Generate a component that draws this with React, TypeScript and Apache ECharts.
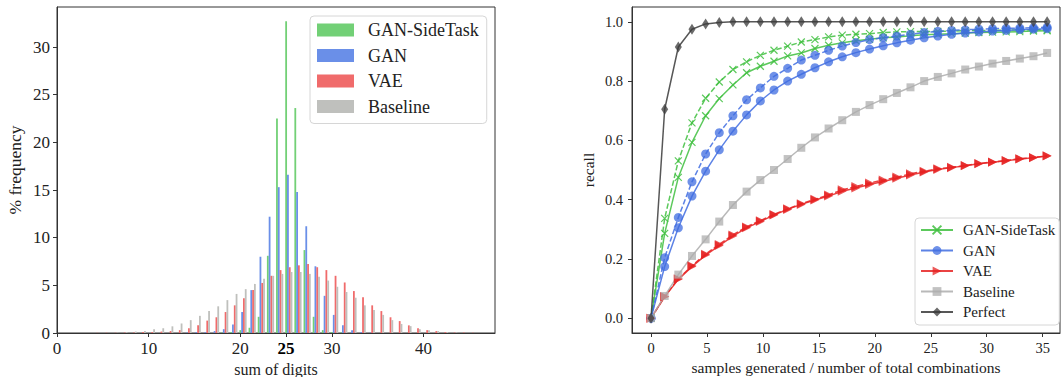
import React, { useEffect, useRef } from 'react';
import * as echarts from 'echarts';

// ---------- Left chart: histogram of digit sums ----------
const histBins = [0,1,2,3,4,5,6,7,8,9,10,11,12,13,14,15,16,17,18,19,20,21,22,23,24,25,26,27,28,29,30,31,32,33,34,35,36,37,38,39,40,41,42,43,44,45,46,47];
const histSideTask = [0,0,0,0,0,0,0,0,0,0,0,0,0,0,0,0,0,0,0.05,0.1,0.3,0.55,1.7,8.1,22.5,32.7,23.6,8.7,1.7,0.3,0.1,0.05,0,0,0,0,0,0,0,0,0,0,0,0,0,0,0,0];
const histGAN = [0,0,0,0,0,0,0,0,0,0,0,0,0,0,0.05,0.1,0.1,0.2,0.4,0.9,2.2,4.5,8.0,12.2,15.3,16.6,14.8,11.2,7.0,3.9,1.9,0.8,0.3,0.1,0.05,0,0,0,0,0,0,0,0,0,0,0,0,0];
const histVAE = [0,0,0,0,0.02,0.03,0.03,0.05,0.05,0.1,0.1,0.15,0.2,0.3,0.5,0.8,1.3,1.65,2.2,2.9,3.65,4.5,5.25,6.0,6.6,6.9,7.1,7.25,6.9,6.6,6.0,5.3,4.4,3.75,2.9,2.3,1.65,1.25,0.8,0.5,0.3,0.2,0.1,0.05,0.05,0.03,0,0];
const histBaseline = [0,0,0,0,0,0,0.03,0.08,0.15,0.2,0.4,0.5,0.7,1.0,1.35,1.8,2.3,2.8,3.45,4.1,4.6,5.15,5.7,6.0,6.2,6.4,6.4,6.2,5.9,5.5,4.85,4.3,3.7,2.9,2.4,1.9,1.35,0.95,0.72,0.4,0.3,0.2,0.1,0.05,0,0,0,0];
const histXTicks = [0, 10, 20, 25, 30, 40];
const histYTicks = [0, 5, 10, 15, 20, 25, 30];

// ---------- Right chart: recall curves ----------
const recallX = [0,1.22,2.44,3.66,4.88,6.10,7.32,8.54,9.77,10.99,12.21,13.43,14.65,15.87,17.09,18.31,19.53,20.75,21.97,23.19,24.41,25.63,26.86,28.08,29.30,30.52,31.74,32.96,34.18,35.40];
const sideTaskSolid = [0,0.286,0.475,0.593,0.683,0.741,0.787,0.828,0.850,0.867,0.885,0.895,0.910,0.921,0.929,0.936,0.941,0.946,0.949,0.953,0.956,0.958,0.960,0.962,0.964,0.965,0.966,0.967,0.969,0.970];
const sideTaskDashed = [0,0.337,0.531,0.659,0.742,0.797,0.839,0.865,0.887,0.904,0.918,0.932,0.940,0.949,0.955,0.958,0.960,0.964,0.966,0.967,0.967,0.968,0.969,0.970,0.971,0.971,0.972,0.972,0.973,0.973];
const ganSolid = [0,0.174,0.305,0.412,0.496,0.568,0.631,0.686,0.733,0.770,0.800,0.823,0.845,0.865,0.882,0.896,0.908,0.919,0.929,0.938,0.946,0.952,0.958,0.962,0.966,0.969,0.971,0.974,0.975,0.977];
const ganDashed = [0,0.204,0.340,0.460,0.554,0.626,0.683,0.737,0.777,0.816,0.843,0.871,0.887,0.904,0.918,0.930,0.940,0.946,0.952,0.958,0.964,0.968,0.971,0.973,0.975,0.977,0.978,0.979,0.980,0.982];
const vaeSolid = [0,0.072,0.131,0.174,0.213,0.245,0.277,0.305,0.326,0.348,0.367,0.384,0.399,0.412,0.428,0.439,0.451,0.461,0.472,0.483,0.493,0.502,0.508,0.514,0.521,0.526,0.531,0.537,0.541,0.547];
const vaeDashed = [0,0.073,0.133,0.177,0.216,0.249,0.281,0.308,0.329,0.350,0.369,0.386,0.401,0.416,0.433,0.444,0.456,0.466,0.476,0.487,0.496,0.504,0.509,0.515,0.522,0.527,0.532,0.538,0.542,0.548];
const baselineRecall = [0,0.075,0.147,0.210,0.266,0.326,0.382,0.427,0.466,0.500,0.537,0.575,0.610,0.640,0.668,0.696,0.719,0.739,0.760,0.779,0.800,0.814,0.826,0.839,0.849,0.859,0.868,0.876,0.884,0.895];
const perfectRecall = [0,0.705,0.915,0.975,0.993,0.998,1,1,1,1,1,1,1,1,1,1,1,1,1,1,1,1,1,1,1,1,1,1,1,1];
const recallXTicks = [0, 5, 10, 15, 20, 25, 30, 35];
const recallYTicks = [0, 0.2, 0.4, 0.6, 0.8, 1.0];

const FONT = "'Liberation Serif', 'DejaVu Serif', serif";
const AX = '#333';
const TXT = '#222';

const C_GREEN_BAR = '#72d076';
const C_BLUE_BAR = '#6a8fe8';
const C_RED_BAR = '#f06b6b';
const C_GRAY_BAR = '#bfc0bd';

const C_GREEN = '#3fbf3f';
const C_BLUE = '#3f6ce0';
const C_RED = '#e62222';
const C_GRAY = '#adadad';
const C_BLACK = '#3a3a3a';

const X_SYMBOL = 'path://M0,0L10,10M10,0L0,10';

export default function App() {
  const ref = useRef<HTMLDivElement>(null);

  useEffect(() => {
    if (!ref.current) return;
    const chart = echarts.init(ref.current, undefined, { renderer: 'svg' });

    const histDefs = [
      { name: 'GAN-SideTask', values: histSideTask, color: C_GREEN_BAR },
      { name: 'GAN', values: histGAN, color: C_BLUE_BAR },
      { name: 'VAE', values: histVAE, color: C_RED_BAR },
      { name: 'Baseline', values: histBaseline, color: C_GRAY_BAR },
    ];

    const barSeries = histDefs.map((d) => ({
      type: 'bar',
      name: d.name,
      xAxisIndex: 1,
      yAxisIndex: 0,
      data: histBins.map((b, i) => [b, d.values[i]]),
      barWidth: 1.8,
      barGap: '0%',
      itemStyle: { color: d.color },
      silent: true,
    }));

    const lineDefs = [
      { name: 'd-GAN-SideTask', values: sideTaskDashed, color: C_GREEN, symbol: X_SYMBOL, size: 7, dashed: true, cross: true },
      { name: 'r-GAN-SideTask', values: sideTaskSolid, color: C_GREEN, symbol: X_SYMBOL, size: 7, dashed: false, cross: true },
      { name: 'd-GAN', values: ganDashed, color: C_BLUE, symbol: 'circle', size: 9, dashed: true },
      { name: 'r-GAN', values: ganSolid, color: C_BLUE, symbol: 'circle', size: 9, dashed: false },
      { name: 'd-VAE', values: vaeDashed, color: C_RED, symbol: 'triangle', size: 9, dashed: true, rotate: -90 },
      { name: 'r-VAE', values: vaeSolid, color: C_RED, symbol: 'triangle', size: 9, dashed: false, rotate: -90 },
      { name: 'r-Baseline', values: baselineRecall, color: C_GRAY, symbol: 'rect', size: 8, dashed: false },
      { name: 'r-Perfect', values: perfectRecall, color: C_BLACK, symbol: 'diamond', size: [7, 11], dashed: false },
    ];

    const lineSeries = lineDefs.map((d: any) => ({
      type: 'line',
      name: d.name,
      xAxisIndex: 2,
      yAxisIndex: 1,
      data: recallX.map((x, i) => [x, d.values[i]]),
      symbol: d.symbol,
      symbolSize: d.size,
      symbolRotate: d.rotate || 0,
      showSymbol: true,
      silent: true,
      lineStyle: {
        color: d.color,
        width: 1.5,
        opacity: 0.85,
        type: d.dashed ? [5.5, 2.4] : 'solid',
      },
      itemStyle: d.cross
        ? { color: d.color, borderColor: d.color, borderWidth: 1.2, opacity: 0.85 }
        : { color: d.color, opacity: 0.75, borderWidth: 0 },
    }));

    const tickLabel = { fontFamily: FONT, color: TXT };

    const option: any = {
      animation: false,
      grid: [
        { left: 57, top: 7, width: 438, height: 326, show: true, borderColor: AX, borderWidth: 1, backgroundColor: 'transparent', containLabel: false, outerBoundsMode: 'none' },
        { left: 632, top: 7, width: 428, height: 326, show: true, borderColor: AX, borderWidth: 1, backgroundColor: 'transparent', containLabel: false, outerBoundsMode: 'none' },
      ],
      xAxis: [
        {
          gridIndex: 0, type: 'value', min: 0, max: 47.8,
          axisLine: { show: true, onZero: false, lineStyle: { color: AX, width: 1 } },
          axisTick: { show: true, length: 4, customValues: histXTicks, lineStyle: { color: AX } },
          axisLabel: {
            ...tickLabel, fontSize: 17, margin: 7, customValues: histXTicks,
            formatter: (v: number) => (v === 25 ? '{b|25}' : String(v)),
            rich: { b: { fontWeight: 'bold', fontSize: 17, fontFamily: FONT, color: '#000' } },
          },
          splitLine: { show: false },
          name: 'sum of digits', nameLocation: 'middle', nameGap: 21,
          nameTextStyle: { fontFamily: FONT, fontSize: 16, color: TXT },
        },
        {
          gridIndex: 0, type: 'value', min: -0.3, max: 47.5, show: false,
          splitLine: { show: false },
        },
        {
          gridIndex: 1, type: 'value', min: -1.7, max: 36.55,
          axisLine: { show: true, onZero: false, lineStyle: { color: AX, width: 1 } },
          axisTick: { show: true, length: 4, customValues: recallXTicks, lineStyle: { color: AX } },
          axisLabel: { ...tickLabel, fontSize: 14.5, margin: 7, customValues: recallXTicks },
          splitLine: { show: false },
          name: 'samples generated / number of total combinations', nameLocation: 'middle', nameGap: 25,
          nameTextStyle: { fontFamily: FONT, fontSize: 15.5, color: TXT },
        },
      ],
      yAxis: [
        {
          gridIndex: 0, type: 'value', min: 0, max: 34.2,
          axisLine: { show: true, onZero: false, lineStyle: { color: AX, width: 1 } },
          axisTick: { show: true, length: 4, customValues: histYTicks, lineStyle: { color: AX } },
          axisLabel: { ...tickLabel, fontSize: 17, margin: 7, customValues: histYTicks },
          splitLine: { show: false },
          name: '% frequency', nameLocation: 'middle', nameGap: 33, nameRotate: 90,
          nameTextStyle: { fontFamily: FONT, fontSize: 17.5, color: TXT },
        },
        {
          gridIndex: 1, type: 'value', min: -0.05, max: 1.05,
          axisLine: { show: true, onZero: false, lineStyle: { color: AX, width: 1 } },
          axisTick: { show: true, length: 4, customValues: recallYTicks, lineStyle: { color: AX } },
          axisLabel: {
            ...tickLabel, fontSize: 14.5, margin: 9, customValues: recallYTicks,
            formatter: (v: number) => v.toFixed(1),
          },
          splitLine: { show: false },
          name: 'recall', nameLocation: 'middle', nameGap: 36, nameRotate: 90,
          nameTextStyle: { fontFamily: FONT, fontSize: 15.5, color: TXT },
        },
      ],
      legend: [
        {
          orient: 'vertical', left: 310, top: 16,
          data: histDefs.map((d) => d.name),
          icon: 'rect', itemWidth: 37, itemHeight: 13, itemGap: 7.5,
          selectedMode: false,
          padding: [5, 8, 8, 7],
          backgroundColor: '#fff', borderColor: '#d6d6d6', borderWidth: 1, borderRadius: 4,
          textStyle: { fontFamily: FONT, fontSize: 18, lineHeight: 18, color: TXT, padding: [0, 0, 0, 9] },
        },
        {
          orient: 'vertical', left: 915, top: 218,
          data: ['r-GAN-SideTask', 'r-GAN', 'r-VAE', 'r-Baseline', 'r-Perfect'],
          formatter: (name: string) => name.slice(2),
          itemWidth: 32, itemHeight: 11, itemGap: 4.5,
          selectedMode: false,
          padding: [4, 4, 5, 5],
          backgroundColor: '#fff', borderColor: '#d6d6d6', borderWidth: 1, borderRadius: 4,
          textStyle: { fontFamily: FONT, fontSize: 15, lineHeight: 16, color: TXT, padding: [0, 0, 0, 5] },
        },
      ],
      series: [...barSeries, ...lineSeries],
    };

    chart.setOption(option);
    return () => chart.dispose();
  }, []);

  return (
    <div
      ref={ref}
      style={{ position: 'absolute', left: 0, top: 0, width: 1062, height: 377, background: '#fff' }}
    />
  );
}
